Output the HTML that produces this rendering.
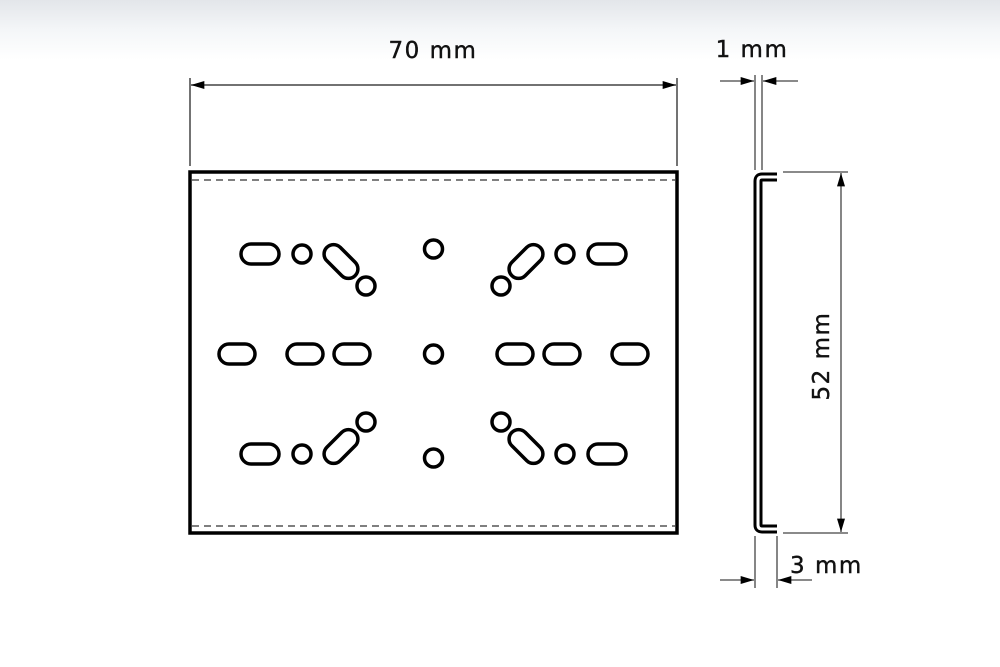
<!DOCTYPE html>
<html><head><style>
html,body{margin:0;padding:0;width:1000px;height:667px;overflow:hidden;background:#fff}
.bg{position:absolute;left:0;top:0;width:1000px;height:60px;background:linear-gradient(#e3e6ea,#f4f6f8 50%,#fff)}
svg{position:absolute;left:0;top:0}
text{font-family:"DejaVu Sans","Liberation Sans",sans-serif;font-size:23px;letter-spacing:1.5px;fill:#111;stroke:#111;stroke-width:0.4}
</style></head><body>
<div class="bg"></div>
<svg width="1000" height="667" viewBox="0 0 1000 667">
<defs>
<marker id="a" viewBox="0 0 10 6" refX="10" refY="3" markerWidth="18" markerHeight="8" markerUnits="userSpaceOnUse" orient="auto"><path d="M0,0 L10,3 L0,6z" fill="#000"/></marker>
<g id="q">
<rect x="241" y="244" width="38" height="20" rx="10" fill="none" stroke="#000" stroke-width="3.5"/>
<circle cx="302" cy="254" r="9" fill="none" stroke="#000" stroke-width="3.5"/>
<rect x="321" y="252" width="40" height="19" rx="9.5" transform="rotate(45 341 261.5)" fill="none" stroke="#000" stroke-width="3.5"/>
<circle cx="366" cy="286" r="9" fill="none" stroke="#000" stroke-width="3.5"/>
</g>
</defs>
<rect x="190" y="172" width="487" height="361" fill="none" stroke="#000" stroke-width="3.5"/>
<line x1="192" y1="180" x2="675" y2="180" stroke="#333" stroke-width="1.3" stroke-dasharray="7,5"/>
<line x1="192" y1="526" x2="675" y2="526" stroke="#333" stroke-width="1.3" stroke-dasharray="7,5"/>
<use href="#q"/>
<use href="#q" transform="translate(867,0) scale(-1,1)"/>
<use href="#q" transform="translate(0,708) scale(1,-1)"/>
<use href="#q" transform="translate(867,708) scale(-1,-1)"/>
<g fill="none" stroke="#000" stroke-width="3.5">
<circle cx="433.5" cy="249" r="9"/><circle cx="433.5" cy="354" r="9"/><circle cx="433.5" cy="458" r="9"/>
<rect x="219" y="344" width="36" height="20" rx="10"/>
<rect x="287" y="344" width="36" height="20" rx="10"/>
<rect x="334" y="344" width="36" height="20" rx="10"/>
<rect x="612" y="344" width="36" height="20" rx="10"/>
<rect x="544" y="344" width="36" height="20" rx="10"/>
<rect x="497" y="344" width="36" height="20" rx="10"/>
</g>
<g stroke="#444" stroke-width="1.5">
<line x1="190" y1="78" x2="190" y2="166"/><line x1="677" y1="78" x2="677" y2="166"/>
<line x1="433" y1="85" x2="191" y2="85" marker-end="url(#a)"/>
<line x1="433" y1="85" x2="676" y2="85" marker-end="url(#a)"/>
</g>
<text x="433" y="58" text-anchor="middle">70 mm</text>
<path d="M777,177 L762,177 Q758,177 758,181 L758,525 Q758,529 762,529 L777,529" fill="none" stroke="#000" stroke-width="9"/>
<path d="M777,177 L762,177 Q758,177 758,181 L758,525 Q758,529 762,529 L777,529" fill="none" stroke="#fff" stroke-width="3"/>
<g stroke="#444" stroke-width="1.3">
<line x1="755" y1="75" x2="755" y2="170"/><line x1="762" y1="75" x2="762" y2="170"/>
<line x1="720" y1="81" x2="754" y2="81" marker-end="url(#a)"/>
<line x1="798" y1="81" x2="763" y2="81" marker-end="url(#a)"/>
<line x1="783" y1="172" x2="848" y2="172"/><line x1="783" y1="533" x2="848" y2="533"/>
<line x1="841" y1="352" x2="841" y2="173" marker-end="url(#a)"/>
<line x1="841" y1="352" x2="841" y2="532" marker-end="url(#a)"/>
<line x1="755" y1="536" x2="755" y2="588"/><line x1="777" y1="536" x2="777" y2="588"/>
<line x1="720" y1="580" x2="754" y2="580" marker-end="url(#a)"/>
<line x1="812" y1="580" x2="778" y2="580" marker-end="url(#a)"/>
</g>
<text x="752" y="57" text-anchor="middle">1 mm</text>
<text x="790" y="573">3 mm</text>
<text x="829" y="356" text-anchor="middle" transform="rotate(-90 829 356)">52 mm</text>
</svg>
</body></html>
